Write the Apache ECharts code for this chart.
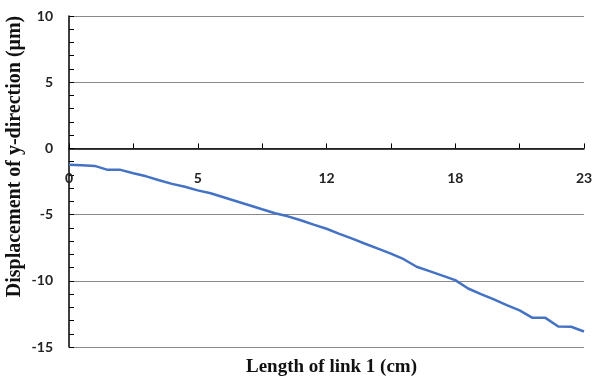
<!DOCTYPE html>
<html>
<head>
<meta charset="utf-8">
<script src="https://cdn.jsdelivr.net/npm/echarts@6/dist/echarts.min.js"></script>
<style>
  html, body { margin: 0; padding: 0; background: #fff; }
  #chart { width: 594px; height: 380px; }
</style>
</head>
<body>
<div id="chart"></div>
<script>
// Sample positions along link 1 (41 evenly spaced stations)
var stations = ['s0','s1','s2','s3','s4','s5','s6','s7','s8','s9','s10',
  's11','s12','s13','s14','s15','s16','s17','s18','s19','s20',
  's21','s22','s23','s24','s25','s26','s27','s28','s29','s30',
  's31','s32','s33','s34','s35','s36','s37','s38','s39','s40'];

// Tick labels shown every 10 stations (cm)
var tickLabels = ['0', '5', '12', '18', '23'];

// Displacement in y-direction (µm)
var displacement = [
  -1.24, -1.28, -1.32, -1.62, -1.62, -1.88, -2.11, -2.41, -2.68, -2.90,
  -3.17, -3.39, -3.69, -3.99, -4.29, -4.60, -4.90, -5.13, -5.43, -5.76,
  -6.07, -6.45, -6.82, -7.20, -7.57, -7.95, -8.37, -8.94, -9.27, -9.61,
  -9.95, -10.58, -11.00, -11.41, -11.83, -12.24, -12.80, -12.80, -13.45, -13.47,
  -13.83
];

var chart = echarts.init(document.getElementById('chart'));
var labelFont = { fontFamily: 'Lato', fontWeight: 'bold', fontSize: 14, color: '#222' };

chart.setOption({
  animation: false,
  grid: { left: 69, right: 10, top: 16, bottom: 33, containLabel: false, outerBoundsMode: 'none' },
  xAxis: {
    type: 'category',
    data: stations,
    boundaryGap: false,
    name: 'Length of link 1 (cm)',
    nameLocation: 'middle',
    nameGap: 11,
    nameMoveOverlap: false,
    nameTextStyle: {
      fontFamily: 'Liberation Serif', fontWeight: 'bold', fontSize: 19, color: '#111',
      padding: [0, 0, 0, 10]
    },
    axisLine: { onZero: true, lineStyle: { color: '#000', width: 1.5 } },
    axisTick: { show: true, inside: true, interval: 4, length: 5, lineStyle: { color: '#000' } },
    axisLabel: Object.assign({
      interval: 9,
      margin: -176,
      formatter: function (v, i) { return tickLabels[i / 10]; }
    }, labelFont),
    splitLine: { show: false }
  },
  yAxis: {
    type: 'value',
    min: -15,
    max: 10,
    interval: 5,
    name: 'Displacement of y-direction (μm)',
    nameLocation: 'middle',
    nameRotate: 90,
    nameGap: 44,
    nameMoveOverlap: false,
    nameTextStyle: {
      fontFamily: 'Liberation Serif', fontWeight: 'bold', fontSize: 20, color: '#111',
      padding: [0, 0, 0, 50]
    },
    axisLine: { show: true, lineStyle: { color: '#000', width: 1.5 } },
    axisTick: { show: true, inside: true, length: 5, lineStyle: { color: '#000' } },
    minorTick: { show: true, splitNumber: 5, length: 5, lineStyle: { color: '#000' } },
    axisLabel: Object.assign({ margin: 16 }, labelFont),
    splitLine: { show: true, lineStyle: { color: '#8a8a8a', width: 1.2 } }
  },
  series: [{
    type: 'line',
    data: displacement,
    showSymbol: false,
    symbol: 'none',
    lineStyle: { color: '#4472C4', width: 2.5 },
    z: 3
  }]
});
</script>
</body>
</html>
